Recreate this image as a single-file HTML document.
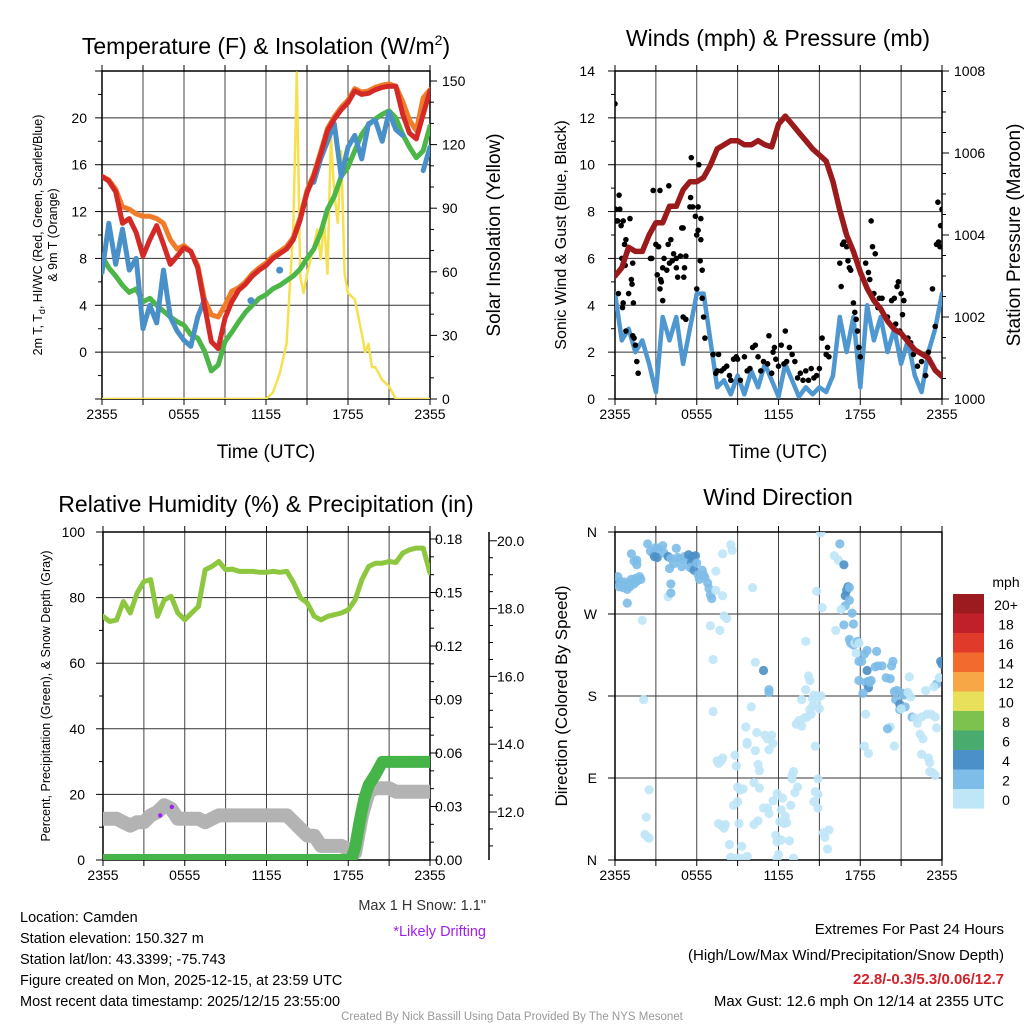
<!DOCTYPE html>
<html><head><meta charset="utf-8"><style>
html,body{margin:0;padding:0;background:#fff;}
svg{display:block;font-family:"Liberation Sans",sans-serif;}
</style></head><body>
<svg id="chart" width="1024" height="1024" viewBox="0 0 1024 1024" xmlns="http://www.w3.org/2000/svg">
<defs>
<clipPath id="c1"><rect x="102" y="71" width="328" height="328"/></clipPath>
<clipPath id="c2"><rect x="615" y="71" width="327" height="328"/></clipPath>
<clipPath id="c3"><rect x="103" y="532" width="327" height="328"/></clipPath>
<clipPath id="c4"><rect x="615" y="532" width="327" height="328"/></clipPath>
</defs>
<g id="texts" font-size="14.5" fill="#000">
<text x="266" y="54" font-size="23" text-anchor="middle">Temperature (F) &amp; Insolation (W/m<tspan font-size="14" dy="-9">2</tspan><tspan dy="9">)</tspan></text>
<text x="778" y="46" font-size="23" text-anchor="middle">Winds (mph) &amp; Pressure (mb)</text>
<text x="266" y="512" font-size="23" text-anchor="middle">Relative Humidity (%) &amp; Precipitation (in)</text>
<text x="778" y="505" font-size="23" text-anchor="middle">Wind Direction</text>
<text x="266" y="458" font-size="19" text-anchor="middle">Time (UTC)</text>
<text x="778" y="458" font-size="19" text-anchor="middle">Time (UTC)</text>
<text transform="translate(42,235) rotate(-90)" font-size="12.5" text-anchor="middle">2m T, T<tspan font-size="9" dy="3">d</tspan><tspan dy="-3">, HI/WC (Red, Green, Scarlet/Blue)</tspan></text>
<text transform="translate(57,235) rotate(-90)" font-size="12.5" text-anchor="middle">&amp; 9m T (Orange)</text>
<text transform="translate(500,235) rotate(-90)" font-size="19" text-anchor="middle">Solar Insolation (Yellow)</text>
<text transform="translate(566,235) rotate(-90)" font-size="16" text-anchor="middle">Sonic Wind &amp; Gust (Blue, Black)</text>
<text transform="translate(1020,235) rotate(-90)" font-size="19" text-anchor="middle">Station Pressure (Maroon)</text>
<text transform="translate(50,696) rotate(-90)" font-size="12.5" text-anchor="middle">Percent, Precipitation (Green), &amp; Snow Depth (Gray)</text>
<text transform="translate(567,696) rotate(-90)" font-size="17" text-anchor="middle">Direction (Colored By Speed)</text>
<text x="486" y="910" text-anchor="end" fill="#333">Max 1 H Snow: 1.1"</text>
<text x="486" y="936" text-anchor="end" fill="#a020f0">*Likely Drifting</text>
<text x="20" y="922">Location: Camden</text>
<text x="20" y="943">Station elevation: 150.327 m</text>
<text x="20" y="964">Station lat/lon: 43.3399; -75.743</text>
<text x="20" y="985">Figure created on Mon, 2025-12-15, at 23:59 UTC</text>
<text x="20" y="1006">Most recent data timestamp: 2025/12/15 23:55:00</text>
<text x="1004" y="934" text-anchor="end" font-size="15">Extremes For Past 24 Hours</text>
<text x="1004" y="960" text-anchor="end" font-size="15">(High/Low/Max Wind/Precipitation/Snow Depth)</text>
<text x="1004" y="984" text-anchor="end" font-size="15" font-weight="bold" fill="#d2232a">22.8/-0.3/5.3/0.06/12.7</text>
<text x="1004" y="1006" text-anchor="end" font-size="15">Max Gust: 12.6 mph On 12/14 at 2355 UTC</text>
<text x="512" y="1020" text-anchor="middle" font-size="11.5" fill="#999">Created By Nick Bassill Using Data Provided By The NYS Mesonet</text>
<text x="1006" y="587" text-anchor="middle" font-size="14">mph</text>
</g>
</svg>
<script>
// ---------- data ----------
var hours = [0,0.5,1,1.5,2,2.5,3,3.5,4,4.5,5,5.5,6,6.5,7,7.5,8,8.5,9,9.5,10,10.5,11,11.5,12,12.5,13,13.5,14,14.5,15,15.5,16,16.5,17,17.5,18,18.5,19,19.5,20,20.5,21,21.5,22,22.5,23,23.5,24];
var timeTickLabels = ["2355","0555","1155","1755","2355"];
var tempRed = [15.0,14.6,13.7,11.0,11.4,10.2,8.2,9.6,10.8,9.2,7.5,8.2,8.9,8.6,7.2,4.0,0.9,0.3,2.9,4.3,5.3,5.8,6.5,7.0,7.4,8.0,8.4,8.8,9.6,11.3,13.6,15.0,16.9,18.9,19.9,20.7,21.3,22.3,22.0,22.1,22.4,22.6,22.7,22.7,20.3,18.7,18.2,20.3,22.3];
var tempOrange = [15.0,14.7,13.9,12.4,12.2,11.8,11.6,11.6,11.4,11.0,9.6,8.8,9.1,8.6,7.4,4.5,3.2,3.0,4.0,5.2,5.5,6.0,6.7,7.2,7.6,8.2,8.6,9.0,9.8,11.5,13.8,15.2,17.1,19.1,20.1,20.9,21.5,22.5,22.2,22.3,22.6,22.8,22.9,22.7,21.4,19.8,18.9,21.7,22.4];
var tempGreen = [8.2,7.2,6.5,5.7,5.1,5.4,4.3,4.6,4.0,3.5,3.0,2.6,2.3,1.5,1.2,0.1,-1.6,-1.1,0.9,1.7,2.6,3.4,4.0,4.6,4.9,5.4,5.7,6.1,6.5,7.1,8.0,8.8,10.2,12.2,13.3,15.0,15.8,17.2,18.6,19.4,19.9,20.3,20.6,20.0,18.6,17.5,16.6,17.2,19.3];
var tempBlue = [6.8,11.0,7.5,10.5,7.0,8.0,2.0,4.0,2.5,7.0,3.0,1.8,1.0,0.5,3.0,4.5,null,null,null,null,null,null,null,null,null,null,null,null,null,null,null,14.5,16.5,18.0,19.5,15.0,17.5,18.5,16.5,19.5,19.8,18.0,20.5,19.0,18.5,null,null,15.5,17.5];
var blueDotHours = [10.9,13.0];
var blueDotValues = [4.4,7.0];
var solarHours = [0,12,12.5,13,13.5,14,14.25,14.5,14.75,15,15.5,15.75,16,16.25,16.5,16.75,17,17.25,17.5,17.75,18,18.5,19,19.25,19.5,19.75,20,20.5,21,21.5,24];
var solarValues = [0,0,3,12,26,81,154,58,50,59,72,80,66,84,59,124,97,83,117,59,50,47,31,22,26,15,15,9,6,0,0];
var tempTicks = [0,4,8,12,16,20];
var solarTicks = [0,30,60,90,120,150];

var pressure = [1003.0,1003.2,1003.7,1003.6,1003.6,1004.0,1004.3,1004.3,1004.7,1004.7,1005.1,1005.3,1005.3,1005.4,1005.7,1006.1,1006.2,1006.3,1006.3,1006.2,1006.2,1006.3,1006.2,1006.15,1006.7,1006.9,1006.7,1006.5,1006.3,1006.1,1005.95,1005.8,1005.3,1004.6,1004.0,1003.6,1003.1,1002.7,1002.4,1002.2,1001.9,1001.7,1001.6,1001.4,1001.2,1001.1,1001.0,1000.7,1000.55];
var windSpeed = [4.5,2.5,3.0,2.0,2.5,1.5,0.3,3.5,2.5,3.5,1.5,3.0,4.5,4.5,2.5,0.5,0.8,0.2,1.0,0.2,1.2,0.5,1.5,0.8,0.1,1.5,0.8,0.1,0.5,0.2,0.5,0.3,1.0,3.5,2.0,3.5,0.5,4.0,2.5,3.5,2.0,3.0,1.5,2.5,1.0,0.3,2.0,3.0,4.5];
var gustHours = [0,0.05,0.1,0.2,0.3,0.35,0.45,0.6,0.25,0.7,0.8,0.5,0.9,1.0,0.75,1.1,1.2,1.25,1.3,1.35,1.0,0.6,0.55,1.3,1.5,1.6,1.7,1.4,0.8,2.8,3.3,3.95,2.6,2.7,3.0,3.1,3.2,3.3,3.35,3.4,3.5,3.6,3.8,3.9,3.5,4.0,4.1,4.2,4.3,4.5,4.6,4.5,4.8,4.9,5.0,5.1,5.2,5.05,5.6,6.15,5.55,5.5,5.7,5.9,6.0,6.1,6.1,6.3,6.3,6.25,6.4,6.0,6.4,6.5,6.6,5.2,5.0,7.2,7.4,7.5,7.6,7.8,8.0,8.2,8.4,8.5,8.7,8.9,9.0,9.2,9.5,9.7,9.9,10.1,10.3,10.5,10.7,10.9,11.2,11.3,11.6,11.7,11.5,11.8,12.0,12.2,12.4,12.5,12.6,12.8,13.0,13.2,13.4,13.6,13.8,14.0,14.2,14.4,14.6,14.8,15.0,15.2,15.5,15.7,15.6,16.5,16.6,16.7,16.8,16.9,17.0,17.1,17.2,17.3,17.5,17.6,17.7,17.8,17.9,18.0,18.8,18.9,18.4,18.6,18.7,19.1,19.0,19.4,19.6,19.3,19.9,20.0,20.3,20.5,20.7,20.8,21.0,21.2,21.1,20.6,20.9,21.5,21.7,21.9,22.2,22.5,22.8,23.0,23.3,23.5,23.6,23.7,23.75,23.85,23.9,24];
var gustValues = [12.6,8.1,7.6,7.6,8.7,8.1,7.4,7.6,4.5,6.6,6.8,6.0,6.3,6.4,5.7,7.7,5.1,4.9,5.8,4.1,4.5,4.1,3.9,2.7,2.3,1.6,1.1,2.6,2.9,8.9,8.9,9.1,6.0,6.0,6.6,5.3,6.5,4.7,5.1,5.0,4.2,6.0,5.5,6.6,5.6,5.8,6.8,5.9,6.2,5.6,5.2,6.0,6.1,7.3,7.3,5.6,6.1,5.2,10.3,10.0,8.6,8.2,8.2,7.8,7.0,7.2,8.2,7.7,6.8,5.9,5.5,4.7,4.3,3.5,2.6,3.4,3.5,1.9,1.1,1.2,1.9,1.2,1.3,1.4,1.0,0.8,1.7,1.8,1.7,0.8,1.8,1.2,1.3,2.2,2.3,1.8,1.2,1.6,1.5,2.7,2.0,2.2,1.1,1.7,1.4,2.3,1.5,2.9,1.6,2.2,1.9,1.6,0.9,1.1,0.8,1.2,0.8,1.3,0.9,1.0,1.3,2.6,1.9,1.8,2.2,5.8,4.8,6.6,6.7,7.2,6.5,5.9,5.6,5.5,4.1,3.7,3.4,2.9,2.2,1.8,7.6,6.5,5.8,5.4,5.1,6.2,4.5,4.3,4.3,3.9,3.5,3.5,4.2,4.3,4.8,5.0,4.5,4.2,3.6,3.2,2.9,2.6,2.4,1.9,1.4,1.6,1.0,2.0,4.7,3.1,6.6,8.4,6.7,6.5,7.4,8.1];
var windTicks = [0,2,4,6,8,10,12,14];
var pressureTicks = [1000,1002,1004,1006,1008];

var humidity = [74.3,72.7,73.2,78.8,75.3,81.4,84.9,85.5,74.3,79.3,80.4,75.3,73.2,75.3,77.3,88.5,89.5,91.0,88.5,88.7,88.0,88.0,88.0,87.7,87.7,88.0,87.7,88.0,84.4,79.9,78.3,74.3,73.2,74.3,74.8,75.3,76.3,79.3,85.5,89.5,90.5,90.5,91.0,90.7,93.6,94.6,95.1,95.1,87.5];
var snowDepth = [11.8,11.8,11.8,11.7,11.6,11.7,11.7,11.9,12.0,12.2,12.1,11.8,11.8,11.8,11.8,11.7,11.8,11.9,11.9,11.9,11.9,11.9,11.9,11.9,11.9,11.9,11.9,11.9,11.7,11.5,11.3,11.3,11.0,11.0,11.0,11.0,10.9,10.8,11.9,12.6,12.7,12.7,12.7,12.6,12.6,12.6,12.6,12.6,12.6];
var precipHours = [0,18.2,18.5,18.8,19.0,19.2,19.5,20.0,20.5,24];
var precipValues = [0,0,0.007,0.02,0.028,0.035,0.042,0.048,0.055,0.055];
var driftHours = [4.2,5.05];
var driftValues = [11.9,12.15];
var humidityTicks = [0,20,40,60,80,100];
var precipTicks = [0,0.03,0.06,0.09,0.12,0.15,0.18];
var precipTickLabels = ["0.00","0.03","0.06","0.09","0.12","0.15","0.18"];
var snowTicks = [12,14,16,18,20];
var snowTickLabels = ["12.0","14.0","16.0","18.0","20.0"];

var dirPoints = [[0.0,304,4],[0.2,311,2],[0.3,300,2],[0.4,306,2],[0.5,302,2],[0.6,299,2],[0.7,305,2],[0.8,301,2],[0.9,297,2],[1.0,303,2],[1.1,300,2],[1.2,308,2],[1.3,305,2],[1.4,303,2],[1.5,309,2],[1.6,306,2],[1.8,311,2],[1.9,308,2],[0.9,282,2],[1.2,336,2],[1.4,328,2],[1.6,324,2],[1.6,329,2],[2.4,347,2],[2.6,339,2],[2.8,336,2],[3.0,343,2],[3.2,341,2],[2.9,333,4],[3.1,332,4],[3.5,345,2],[3.6,337,2],[3.9,333,4],[4.1,331,2],[4.0,320,2],[4.1,303,2],[4.5,342,2],[4.3,325,2],[4.6,332,2],[4.8,330,2],[4.9,322,2],[5.1,333,2],[5.3,329,2],[5.4,335,4],[5.6,326,4],[5.7,333,4],[5.9,334,4],[5.5,321,2],[5.8,318,4],[6.0,326,2],[6.1,313,2],[6.2,308,2],[6.4,318,2],[6.5,313,2],[6.6,310,2],[6.8,304,2],[6.9,298,2],[7.0,291,2],[7.1,287,2],[3.9,289,0],[4.1,293,2],[7.4,317,0],[7.4,296,0],[2.0,263,0],[2.1,176,0],[7.0,257,0],[7.2,220,0],[7.2,163,0],[2.5,77,0],[2.3,47,0],[2.2,28,0],[2.4,25,0],[2.5,24,0],[7.5,109,0],[7.6,106,0],[7.9,290,0],[8.0,268,0],[8.2,265,0],[7.7,252,0],[7.9,336,0],[8.5,346,0],[8.6,340,0],[10.1,299,0],[10.3,217,0],[10.9,208,4],[11.3,187,2],[11.3,184,2],[10.0,168,0],[9.6,146,0],[9.7,129,0],[9.7,127,0],[10.3,120,0],[10.5,105,0],[10.6,98,0],[10.4,140,0],[11.0,137,0],[11.3,121,0],[11.5,137,0],[11.2,133,0],[11.6,128,0],[8.8,115,0],[8.9,103,0],[7.9,112,0],[7.8,109,0],[7.6,40,0],[7.8,38,0],[8.0,35,0],[8.1,39,0],[8.4,17,0],[9.0,80,0],[9.2,77,0],[9.4,78,0],[8.7,60,0],[9.0,64,0],[9.1,40,0],[9.3,15,0],[8.5,3,0],[8.9,2,0],[9.2,2,0],[9.7,4,0],[10.2,85,0],[10.6,79,0],[10.9,57,0],[11.2,57,0],[11.3,51,0],[10.5,43,0],[10.2,39,0],[11.6,65,0],[11.9,73,0],[12.3,68,0],[12.2,55,0],[12.5,48,0],[12.6,41,0],[12.1,42,0],[12.4,40,0],[11.8,27,0],[11.9,20,0],[12.2,22,0],[12.8,21,0],[12.0,6,0],[11.9,2,0],[13.1,2,0],[12.9,60,0],[13.0,89,0],[13.1,97,0],[13.0,93,0],[13.4,80,0],[13.2,74,0],[14.9,89,0],[14.7,75,0],[14.9,72,0],[14.6,64,0],[14.9,57,0],[15.3,30,0],[15.4,25,0],[15.6,12,0],[15.7,33,0],[14.7,125,0],[13.7,176,0],[14.3,165,0],[14.1,157,0],[13.5,153,0],[13.3,149,0],[13.7,147,0],[13.9,156,0],[14.4,160,0],[14.5,169,0],[14.5,177,0],[14.6,181,0],[14.3,197,0],[14.2,202,0],[14.0,187,0],[14.8,172,0],[14.9,180,0],[15.0,166,0],[14.0,240,0],[15.1,180,0],[14.8,295,0],[15.2,277,0],[15.1,359,0],[16.1,334,0],[16.4,329,0],[16.5,347,2],[16.8,324,4],[17.1,300,4],[16.9,290,4],[17.0,296,4],[17.2,299,2],[17.2,285,2],[16.9,279,2],[16.6,275,0],[16.2,252,0],[16.8,258,2],[17.4,271,2],[17.5,259,2],[17.2,242,2],[17.3,238,2],[17.5,236,2],[17.6,238,0],[17.8,240,2],[17.9,238,0],[17.7,227,0],[18.1,218,2],[18.3,226,2],[18.5,230,2],[17.9,218,2],[18.5,208,4],[18.6,196,4],[18.4,195,2],[18.6,189,4],[18.7,195,2],[18.8,197,2],[19.1,212,2],[19.3,213,2],[19.6,213,2],[18.2,183,2],[17.9,197,2],[19.2,229,2],[19.9,200,2],[20.3,213,2],[20.2,199,2],[20.4,218,2],[20.5,185,2],[20.7,186,2],[20.6,176,2],[20.9,165,2],[20.9,171,4],[21.2,181,2],[21.4,183,2],[21.1,183,2],[21.6,201,0],[21.5,184,0],[21.7,179,0],[21.8,157,2],[22.0,156,0],[22.2,150,0],[22.5,157,0],[22.8,186,0],[22.4,138,0],[22.6,133,0],[22.5,116,0],[23.1,97,0],[23.3,96,0],[23.1,107,0],[23.5,93,0],[23.9,218,4],[24.0,215,4],[23.6,193,2],[21.3,168,2],[20.2,146,0],[20.0,144,2],[20.5,125,0],[21.0,166,0],[23.0,112,0],[23.2,160,0],[23.5,157,0],[23.6,145,0],[22.9,160,0],[23.4,190,0],[23.8,200,0],[18.4,160,0],[18.6,117,0],[18.3,125,0]];
var dirTicks = [0,90,180,270,360];
var dirTickLabels = ["N","E","S","W","N"];
var speedBins = ["0","2","4","6","8","10","12","14","16","18","20+"];
var speedColors = ["#bfe6f7","#7dbde8","#4b90c8","#4aab6f","#7dc24f","#e8e05a","#f7a746","#f26a2e","#e03a2b","#c0202a","#9b1b1e"];

// ---------- axis functions ----------
function x1(h){return 102 + h*328/24;}
function y1(v){return 399 - (v+4)*328/28;}
function ys1(w){return 399 - w*318/150;}
function x2(h){return 615 + h*327/24;}
function y2(v){return 399 - v*328/14;}
function yp2(p){return 399 - (p-1000)*41;}
function x3(h){return 103 + h*327/24;}
function y3(v){return 860 - v*3.28;}
function yr3(p){return 860 - p*321/0.18;}
function ys3(d){return 812 - (d-12)*33.9;}
function x4(h){return 615 + h*327/24;}
function y4(d){return 860 - d*328/360;}

var NS="http://www.w3.org/2000/svg";
var svg=document.getElementById('chart');
function mk(tag,attrs,parent){var e=document.createElementNS(NS,tag);for(var k in attrs){e.setAttribute(k,attrs[k]);}(parent||svg).appendChild(e);return e;}
function txt(x,y,s,size,anchor,parent){var e=mk('text',{x:x,y:y,'font-size':size,'text-anchor':anchor},parent);e.textContent=s;return e;}

function frame(L,T,R,B,xf,clipId,name){
  var g=mk('g',{});
  
  
  for(var h=0;h<=24;h+=3){
    var gl=mk('line',{x1:xf(h),x2:xf(h),y1:T,y2:B,stroke:'#444','stroke-width':1},g);
    
    
    var t1=mk('line',{x1:xf(h),x2:xf(h),y1:B,y2:B+6,stroke:'#000','stroke-width':1},g);
    
    
    var t2=mk('line',{x1:xf(h),x2:xf(h),y1:T,y2:T-6,stroke:'#000','stroke-width':1},g);
    
    
  }
  for(var i=0;i<timeTickLabels.length;i++){
    var tl=txt(xf(i*6),B+20,timeTickLabels[i],14,'middle',g);
    
    
  }
  return g;
}
function hgrid(g,L,R,y,name){
  var l=mk('line',{x1:L,x2:R,y1:y,y2:y,stroke:'#333','stroke-width':1},g);
  
  
}
function tick(g,x,y,len,name){
  var l=mk('line',{x1:x,x2:x+len,y1:y,y2:y,stroke:'#000','stroke-width':1},g);
  
  
}
function border(g,L,T,R,B,name){
  var r=mk('rect',{x:L,y:T,width:R-L,height:B-T,fill:'none',stroke:'#000','stroke-width':1.5},g);
  
  
}
function line(xs,ys,xf,yf,color,w,clip,name){
  var segs=[],cur=[];
  for(var i=0;i<xs.length;i++){
    if(ys[i]===null){if(cur.length)segs.push(cur);cur=[];continue;}
    cur.push(xf(xs[i]).toFixed(1)+','+yf(ys[i]).toFixed(1));
  }
  if(cur.length)segs.push(cur);
  for(var s=0;s<segs.length;s++){
    var p=mk('polyline',{points:segs[s].join(' '),fill:'none',stroke:color,'stroke-width':w,'stroke-linejoin':'round','stroke-linecap':'round','clip-path':'url(#'+clip+')'});
    
    
  }
}

// ---------- Panel 1 ----------
var g1=frame(102,71,430,399,x1,'c1','temp');
for(var i=0;i<tempTicks.length;i++){hgrid(g1,102,430,y1(tempTicks[i]),'temp');
  var lb=txt(95-8,y1(tempTicks[i])+5,String(tempTicks[i]),14,'end',g1);
  
  }
for(var v=-4;v<=24;v+=2){tick(g1,102,y1(v),v%4===0?-7:-4,'temp-ytick');}
for(var w=0;w<=150;w+=10){tick(g1,430,ys1(w),w%30===0?7:4,'solar-ytick');}
for(var i=0;i<solarTicks.length;i++){var lb2=txt(442,ys1(solarTicks[i])+5,String(solarTicks[i]),14,'start',g1);
  
  }
line(solarHours,solarValues,x1,ys1,'#f5e04f',2.5,'c1','solar-insolation-line');
line(hours,tempOrange,x1,y1,'#f07c2a',5,'c1','temp-9m-orange-line');
line(hours,tempGreen,x1,y1,'#4cb748',5,'c1','dewpoint-green-line');
line(hours,tempBlue,x1,y1,'#4a90c8',5,'c1','windchill-blue-line');
for(var i=0;i<blueDotHours.length;i++){var c=mk('circle',{cx:x1(blueDotHours[i]),cy:y1(blueDotValues[i]),r:3.5,fill:'#4a90c8'});
  
  }
line(hours,tempRed,x1,y1,'#d42a27',5,'c1','temp-2m-red-line');
border(g1,102,71,430,399,'temp');

// ---------- Panel 2 ----------
var g2=frame(615,71,942,399,x2,'c2','wind');
for(var i=0;i<windTicks.length;i++){if(windTicks[i]%2===0&&windTicks[i]>0&&windTicks[i]<14)hgrid(g2,615,942,y2(windTicks[i]),'wind');
  var lb=txt(595,y2(windTicks[i])+5,String(windTicks[i]),14,'end',g2);
  
  }
for(var v=0;v<=14;v+=1){tick(g2,615,y2(v),v%2===0?-7:-4,'wind-ytick');}
for(var p=1000;p<=1008;p+=0.5){tick(g2,942,yp2(p),p%2===0?7:4,'pressure-ytick');}
for(var i=0;i<pressureTicks.length;i++){var lb2=txt(954,yp2(pressureTicks[i])+5,String(pressureTicks[i]),14,'start',g2);
  
  }
line(hours,windSpeed,x2,y2,'#4f97d0',4.5,'c2','sonic-wind-line');
for(var i=0;i<gustHours.length;i++){var c=mk('circle',{cx:x2(gustHours[i]),cy:y2(gustValues[i]),r:2.8,fill:'#000','clip-path':'url(#c2)'});
  
  }
line(hours,pressure,x2,yp2,'#9b1a1c',5.5,'c2','pressure-line');
border(g2,615,71,942,399,'wind');

// ---------- Panel 3 ----------
var g3=frame(103,532,430,860,x3,'c3','rh');
for(var i=0;i<humidityTicks.length;i++){if(humidityTicks[i]>0&&humidityTicks[i]<100)hgrid(g3,103,430,y3(humidityTicks[i]),'rh');
  var lb=txt(85,y3(humidityTicks[i])+5,String(humidityTicks[i]),14,'end',g3);
  
  }
for(var v=0;v<=100;v+=10){tick(g3,103,y3(v),v%20===0?-7:-4,'rh-ytick');}
for(var p=0;p<=0.18001;p+=0.01){tick(g3,430,yr3(p),Math.abs(p/0.03-Math.round(p/0.03))<0.01?8:4,'precip-ytick');}
for(var i=0;i<precipTicks.length;i++){var lb2=txt(435,yr3(precipTicks[i])+5,precipTickLabels[i],14,'start',g3);
  
  }
var ax2=mk('line',{x1:489,x2:489,y1:532,y2:860,stroke:'#000','stroke-width':1.5},g3);


for(var d=11;d<=20;d+=0.5){tick(g3,489,ys3(d),d%2===0?8:4,'snow-ytick');}
for(var i=0;i<snowTicks.length;i++){var lb3=txt(497,ys3(snowTicks[i])+5,snowTickLabels[i],14,'start',g3);
  
  }
line(hours,snowDepth,x3,ys3,'#b3b3b3',14,'c3','snow-depth-line');
line(precipHours,precipValues,x3,yr3,'#45b549',12,'c3','precip-line');
line(hours,humidity,x3,y3,'#8dc63f',5,'c3','humidity-line');
for(var i=0;i<driftHours.length;i++){var c=mk('circle',{cx:x3(driftHours[i]),cy:ys3(driftValues[i]),r:2.2,fill:'#a020f0'});
  
  }
border(g3,103,532,430,860,'rh');

// ---------- Panel 4 ----------
var g4=frame(615,532,942,860,x4,'c4','dir');
for(var i=0;i<dirTicks.length;i++){hgrid(g4,615,942,y4(dirTicks[i]),'dir');
  tick(g4,615,y4(dirTicks[i]),-7,'dir-ytick');
  var lb=txt(597,y4(dirTicks[i])+5,dirTickLabels[i],14,'end',g4);
  
  }
for(var i=0;i<dirPoints.length;i++){var pt=dirPoints[i];
  var c=mk('circle',{cx:x4(pt[0]),cy:y4(pt[1]),r:4.6,fill:speedColors[pt[2]/2],'fill-opacity':0.9,'clip-path':'url(#c4)'});
  
  }
border(g4,615,532,942,860,'dir');

// colorbar
var cb=mk('g',{});


for(var i=0;i<speedBins.length;i++){
  var k=speedBins.length-1-i;
  var r=mk('rect',{x:953,y:594+i*19.5,width:31,height:19.6,fill:speedColors[k]},cb);
  
  
  var t=txt(1006,594+i*19.5+16,speedBins[k],14,'middle',cb);
  
  
}
</script>
</body></html>
